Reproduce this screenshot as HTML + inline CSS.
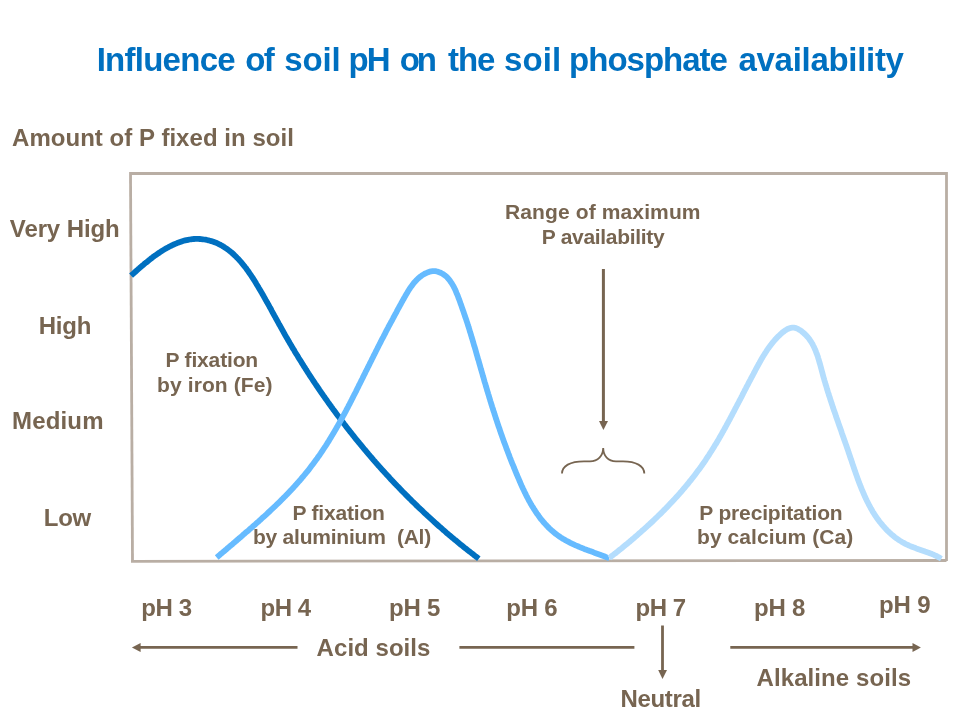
<!DOCTYPE html>
<html><head><meta charset="utf-8"><style>
html,body{margin:0;padding:0;background:#fff;width:960px;height:720px;overflow:hidden}
svg{display:block;will-change:transform}
text{font-family:"Liberation Sans",sans-serif;font-weight:bold;white-space:pre}
</style></head><body>
<svg width="960" height="720" viewBox="0 0 960 720">
<path d="M130.5,173.5 L946.5,173.5" stroke="#B9AEA4" stroke-width="2.8" fill="none"/>
<path d="M946.5,172 L946.5,561" stroke="#B9AEA4" stroke-width="2.8" fill="none"/>
<path d="M130.5,172 L132.5,562" stroke="#B9AEA4" stroke-width="2.8" fill="none"/>
<path d="M131,561.3 L946.5,560.5" stroke="#B9AEA4" stroke-width="2.8" fill="none"/>
<path d="M131.1,275.6 L132.1,274.7 L133.1,273.8 L134.1,272.9 L135.1,272.0 L136.2,271.0 L137.2,270.1 L138.3,269.1 L139.4,268.2 L140.5,267.2 L141.6,266.3 L142.8,265.3 L143.9,264.3 L145.1,263.3 L146.3,262.4 L147.5,261.4 L148.7,260.4 L149.9,259.5 L151.1,258.5 L152.4,257.6 L153.6,256.6 L154.9,255.7 L156.2,254.8 L157.5,253.9 L158.8,253.0 L160.1,252.1 L161.4,251.3 L162.8,250.4 L164.1,249.6 L165.5,248.8 L166.8,248.0 L168.2,247.3 L169.6,246.5 L171.0,245.8 L172.4,245.1 L173.8,244.5 L175.2,243.9 L176.6,243.3 L178.0,242.7 L179.4,242.2 L180.9,241.7 L182.3,241.2 L183.7,240.8 L185.2,240.4 L186.6,240.1 L188.1,239.8 L189.5,239.5 L191.0,239.3 L192.4,239.1 L193.9,239.0 L195.4,238.9 L196.8,238.9 L198.3,238.9 L199.8,239.0 L201.2,239.1 L202.7,239.3 L204.1,239.5 L205.6,239.7 L207.0,240.0 L208.4,240.3 L209.9,240.7 L211.3,241.1 L212.7,241.5 L214.0,242.0 L215.4,242.6 L216.8,243.1 L218.1,243.7 L219.4,244.4 L220.7,245.0 L222.0,245.7 L223.2,246.5 L224.5,247.3 L225.7,248.1 L226.9,248.9 L228.1,249.8 L229.3,250.7 L230.4,251.6 L231.6,252.5 L232.7,253.5 L233.8,254.5 L234.9,255.6 L236.0,256.6 L237.0,257.7 L238.1,258.8 L239.1,259.9 L240.1,261.0 L241.1,262.2 L242.1,263.4 L243.1,264.6 L244.1,265.8 L245.0,267.0 L246.0,268.2 L246.9,269.5 L247.8,270.7 L248.7,272.0 L249.6,273.3 L250.5,274.6 L251.4,275.9 L252.2,277.2 L253.1,278.5 L253.9,279.9 L254.8,281.2 L255.6,282.5 L256.4,283.9 L257.2,285.2 L258.0,286.5 L258.8,287.9 L259.6,289.2 L260.4,290.6 L261.2,291.9 L262.0,293.2 L262.7,294.6 L263.5,295.9 L264.2,297.2 L265.0,298.6 L265.7,299.9 L266.5,301.2 L267.2,302.6 L268.0,303.9 L268.7,305.2 L269.4,306.5 L270.1,307.8 L270.9,309.1 L271.6,310.5 L272.3,311.8 L273.0,313.1 L273.7,314.4 L274.4,315.7 L275.2,317.0 L275.9,318.3 L276.6,319.6 L277.3,320.9 L278.0,322.2 L278.7,323.5 L279.4,324.8 L280.2,326.1 L280.9,327.4 L281.6,328.7 L282.3,330.0 L283.1,331.3 L283.8,332.6 L284.5,333.9 L285.2,335.2 L286.0,336.5 L286.7,337.8 L287.5,339.1 L288.2,340.4 L289.0,341.6 L289.7,342.9 L290.5,344.2 L291.2,345.5 L292.0,346.8 L292.7,348.1 L293.5,349.3 L294.3,350.6 L295.0,351.9 L295.8,353.2 L296.6,354.5 L297.4,355.7 L298.1,357.0 L298.9,358.3 L299.7,359.5 L300.5,360.8 L301.3,362.1 L302.1,363.4 L302.9,364.6 L303.7,365.9 L304.5,367.2 L305.3,368.4 L306.1,369.7 L306.9,370.9 L307.7,372.2 L308.5,373.5 L309.3,374.7 L310.1,376.0 L311.0,377.2 L311.8,378.5 L312.6,379.7 L313.4,381.0 L314.3,382.2 L315.1,383.5 L315.9,384.7 L316.8,386.0 L317.6,387.2 L318.5,388.5 L319.3,389.7 L320.2,390.9 L321.0,392.2 L321.9,393.4 L322.7,394.6 L323.6,395.9 L324.5,397.1 L325.3,398.3 L326.2,399.6 L327.1,400.8 L327.9,402.0 L328.8,403.3 L329.7,404.5 L330.6,405.7 L331.4,406.9 L332.3,408.1 L333.2,409.4 L334.1,410.6 L335.0,411.8 L335.9,413.0 L336.8,414.2 L337.7,415.4 L338.6,416.6 L339.5,417.8 L340.4,419.0 L341.3,420.2 L342.2,421.4 L343.1,422.6 L344.0,423.8 L345.0,425.0 L345.9,426.2 L346.8,427.4 L347.7,428.6 L348.7,429.8 L349.6,431.0 L350.5,432.2 L351.5,433.4 L352.4,434.5 L353.3,435.7 L354.3,436.9 L355.2,438.1 L356.2,439.3 L357.1,440.4 L358.1,441.6 L359.0,442.8 L360.0,443.9 L361.0,445.1 L361.9,446.3 L362.9,447.4 L363.8,448.6 L364.8,449.7 L365.8,450.9 L366.8,452.1 L367.7,453.2 L368.7,454.4 L369.7,455.5 L370.7,456.7 L371.7,457.8 L372.6,458.9 L373.6,460.1 L374.6,461.2 L375.6,462.4 L376.6,463.5 L377.6,464.6 L378.6,465.8 L379.6,466.9 L380.6,468.0 L381.6,469.1 L382.6,470.3 L383.7,471.4 L384.7,472.5 L385.7,473.6 L386.7,474.7 L387.7,475.8 L388.8,476.9 L389.8,478.1 L390.8,479.2 L391.8,480.3 L392.9,481.4 L393.9,482.5 L394.9,483.6 L396.0,484.6 L397.0,485.7 L398.1,486.8 L399.1,487.9 L400.2,489.0 L401.2,490.1 L402.3,491.2 L403.3,492.2 L404.4,493.3 L405.4,494.4 L406.5,495.5 L407.6,496.5 L408.6,497.6 L409.7,498.7 L410.8,499.7 L411.8,500.8 L412.9,501.8 L414.0,502.9 L415.1,503.9 L416.1,505.0 L417.2,506.0 L418.3,507.1 L419.4,508.1 L420.5,509.2 L421.6,510.2 L422.7,511.2 L423.8,512.3 L424.9,513.3 L426.0,514.3 L427.1,515.4 L428.2,516.4 L429.3,517.4 L430.4,518.4 L431.5,519.4 L432.6,520.4 L433.7,521.4 L434.8,522.5 L436.0,523.5 L437.1,524.5 L438.2,525.5 L439.3,526.5 L440.5,527.4 L441.6,528.4 L442.7,529.4 L443.9,530.4 L445.0,531.4 L446.1,532.4 L447.3,533.4 L448.4,534.3 L449.5,535.3 L450.7,536.3 L451.8,537.2 L453.0,538.2 L454.1,539.2 L455.3,540.1 L456.5,541.1 L457.6,542.0 L458.8,543.0 L459.9,543.9 L461.1,544.9 L462.3,545.8 L463.4,546.7 L464.6,547.7 L465.8,548.6 L466.9,549.5 L468.1,550.5 L469.3,551.4 L470.5,552.3 L471.7,553.2 L472.8,554.1 L474.0,555.1 L475.2,556.0 L476.4,556.9 L477.6,557.8 L478.8,558.7" stroke="#0070C0" stroke-width="5.8" fill="none" stroke-linejoin="round"/>
<path d="M216.7,557.5 L217.9,556.5 L219.0,555.6 L220.1,554.6 L221.3,553.6 L222.4,552.7 L223.5,551.7 L224.7,550.7 L225.8,549.8 L226.9,548.8 L228.1,547.8 L229.2,546.8 L230.4,545.9 L231.5,544.9 L232.7,543.9 L233.8,542.9 L234.9,542.0 L236.1,541.0 L237.2,540.0 L238.4,539.0 L239.5,538.0 L240.7,537.1 L241.8,536.1 L242.9,535.1 L244.1,534.1 L245.2,533.1 L246.4,532.1 L247.5,531.2 L248.7,530.2 L249.8,529.2 L250.9,528.2 L252.1,527.2 L253.2,526.2 L254.3,525.2 L255.5,524.2 L256.6,523.2 L257.7,522.2 L258.9,521.2 L260.0,520.2 L261.1,519.1 L262.2,518.1 L263.4,517.1 L264.5,516.1 L265.6,515.1 L266.7,514.1 L267.8,513.0 L268.9,512.0 L270.0,511.0 L271.1,509.9 L272.2,508.9 L273.3,507.9 L274.4,506.8 L275.5,505.8 L276.6,504.7 L277.7,503.7 L278.8,502.6 L279.9,501.6 L280.9,500.5 L282.0,499.4 L283.1,498.4 L284.1,497.3 L285.2,496.2 L286.2,495.1 L287.3,494.1 L288.3,493.0 L289.4,491.9 L290.4,490.8 L291.4,489.7 L292.5,488.6 L293.5,487.5 L294.5,486.4 L295.5,485.3 L296.5,484.1 L297.5,483.0 L298.5,481.9 L299.5,480.8 L300.5,479.6 L301.5,478.5 L302.4,477.3 L303.4,476.2 L304.4,475.0 L305.3,473.9 L306.3,472.7 L307.2,471.6 L308.2,470.4 L309.1,469.2 L310.0,468.0 L310.9,466.8 L311.8,465.6 L312.7,464.4 L313.6,463.2 L314.5,462.0 L315.4,460.8 L316.3,459.6 L317.2,458.4 L318.0,457.2 L318.9,455.9 L319.8,454.7 L320.6,453.5 L321.4,452.2 L322.3,451.0 L323.1,449.7 L323.9,448.5 L324.8,447.2 L325.6,446.0 L326.4,444.7 L327.2,443.4 L328.0,442.2 L328.8,440.9 L329.6,439.6 L330.4,438.3 L331.2,437.0 L331.9,435.7 L332.7,434.4 L333.5,433.2 L334.2,431.9 L335.0,430.6 L335.8,429.3 L336.5,427.9 L337.3,426.6 L338.0,425.3 L338.8,424.0 L339.5,422.7 L340.2,421.4 L341.0,420.1 L341.7,418.7 L342.4,417.4 L343.1,416.1 L343.9,414.8 L344.6,413.4 L345.3,412.1 L346.0,410.8 L346.7,409.4 L347.4,408.1 L348.1,406.8 L348.8,405.4 L349.5,404.1 L350.2,402.7 L350.9,401.4 L351.6,400.0 L352.3,398.7 L352.9,397.4 L353.6,396.0 L354.3,394.7 L355.0,393.3 L355.7,392.0 L356.4,390.6 L357.0,389.3 L357.7,387.9 L358.4,386.6 L359.0,385.2 L359.7,383.9 L360.4,382.5 L361.1,381.2 L361.7,379.8 L362.4,378.5 L363.1,377.1 L363.7,375.8 L364.4,374.4 L365.1,373.1 L365.7,371.7 L366.4,370.4 L367.1,369.0 L367.7,367.7 L368.4,366.4 L369.1,365.0 L369.7,363.7 L370.4,362.3 L371.1,361.0 L371.7,359.7 L372.4,358.3 L373.1,357.0 L373.7,355.6 L374.4,354.3 L375.1,353.0 L375.7,351.7 L376.4,350.3 L377.1,349.0 L377.8,347.7 L378.4,346.3 L379.1,345.0 L379.8,343.7 L380.5,342.4 L381.1,341.0 L381.8,339.7 L382.5,338.4 L383.2,337.1 L383.9,335.7 L384.6,334.4 L385.3,333.1 L385.9,331.8 L386.6,330.4 L387.3,329.1 L388.0,327.8 L388.7,326.4 L389.4,325.1 L390.1,323.8 L390.8,322.5 L391.6,321.1 L392.3,319.8 L393.0,318.5 L393.7,317.1 L394.4,315.8 L395.1,314.5 L395.9,313.1 L396.6,311.8 L397.3,310.4 L398.0,309.1 L398.8,307.8 L399.5,306.4 L400.2,305.1 L401.0,303.7 L401.7,302.4 L402.5,301.0 L403.2,299.7 L404.0,298.3 L404.8,296.9 L405.5,295.6 L406.3,294.2 L407.1,292.9 L407.9,291.6 L408.7,290.3 L409.5,289.0 L410.4,287.7 L411.3,286.4 L412.2,285.2 L413.1,284.0 L414.0,282.8 L415.0,281.7 L416.0,280.6 L417.1,279.5 L418.1,278.5 L419.3,277.5 L420.4,276.6 L421.6,275.7 L422.8,274.9 L424.1,274.1 L425.4,273.4 L426.8,272.8 L428.2,272.2 L429.6,271.7 L431.1,271.4 L432.6,271.2 L434.0,271.1 L435.5,271.2 L437.0,271.5 L438.4,271.9 L439.8,272.4 L441.1,273.0 L442.4,273.7 L443.6,274.5 L444.8,275.3 L445.9,276.2 L447.0,277.2 L448.0,278.3 L448.9,279.4 L449.9,280.6 L450.7,281.8 L451.6,283.1 L452.4,284.4 L453.2,285.7 L453.9,287.1 L454.6,288.5 L455.3,289.9 L455.9,291.4 L456.5,292.9 L457.2,294.4 L457.8,295.9 L458.3,297.4 L458.9,298.9 L459.5,300.4 L460.0,301.9 L460.5,303.3 L461.1,304.8 L461.6,306.3 L462.1,307.8 L462.6,309.2 L463.1,310.7 L463.6,312.1 L464.1,313.6 L464.6,315.0 L465.1,316.5 L465.6,317.9 L466.1,319.3 L466.5,320.7 L467.0,322.2 L467.5,323.6 L467.9,325.0 L468.4,326.4 L468.8,327.8 L469.3,329.2 L469.7,330.7 L470.1,332.1 L470.6,333.5 L471.0,334.9 L471.4,336.3 L471.8,337.7 L472.3,339.1 L472.7,340.5 L473.1,341.9 L473.5,343.3 L473.9,344.7 L474.3,346.1 L474.8,347.5 L475.2,348.9 L475.6,350.3 L476.0,351.8 L476.4,353.2 L476.8,354.6 L477.2,356.0 L477.6,357.4 L478.0,358.9 L478.5,360.3 L478.9,361.7 L479.3,363.2 L479.7,364.6 L480.1,366.1 L480.5,367.5 L480.9,369.0 L481.4,370.4 L481.8,371.9 L482.2,373.3 L482.6,374.8 L483.0,376.3 L483.5,377.7 L483.9,379.2 L484.3,380.7 L484.7,382.1 L485.2,383.6 L485.6,385.1 L486.0,386.5 L486.5,388.0 L486.9,389.4 L487.3,390.9 L487.8,392.4 L488.2,393.8 L488.7,395.3 L489.1,396.8 L489.5,398.2 L490.0,399.7 L490.4,401.1 L490.9,402.6 L491.3,404.0 L491.8,405.5 L492.2,406.9 L492.7,408.3 L493.1,409.8 L493.6,411.2 L494.1,412.6 L494.5,414.1 L495.0,415.5 L495.5,416.9 L495.9,418.4 L496.4,419.8 L496.9,421.2 L497.3,422.6 L497.8,424.0 L498.3,425.5 L498.8,426.9 L499.3,428.3 L499.8,429.7 L500.2,431.1 L500.7,432.5 L501.2,433.9 L501.7,435.3 L502.2,436.7 L502.7,438.2 L503.2,439.6 L503.7,441.0 L504.2,442.4 L504.8,443.8 L505.3,445.2 L505.8,446.6 L506.3,448.0 L506.8,449.4 L507.4,450.8 L507.9,452.2 L508.4,453.6 L509.0,455.0 L509.5,456.4 L510.0,457.8 L510.6,459.2 L511.1,460.6 L511.7,462.0 L512.2,463.4 L512.8,464.7 L513.4,466.1 L513.9,467.5 L514.5,468.9 L515.1,470.3 L515.6,471.7 L516.2,473.1 L516.8,474.5 L517.4,475.9 L518.0,477.3 L518.6,478.7 L519.2,480.1 L519.8,481.5 L520.4,482.9 L521.0,484.3 L521.6,485.7 L522.3,487.1 L522.9,488.5 L523.6,489.8 L524.2,491.2 L524.9,492.6 L525.5,493.9 L526.2,495.3 L526.9,496.6 L527.6,498.0 L528.3,499.3 L529.0,500.7 L529.8,502.0 L530.5,503.3 L531.2,504.6 L532.0,505.9 L532.8,507.2 L533.6,508.4 L534.4,509.7 L535.2,510.9 L536.0,512.2 L536.8,513.4 L537.7,514.6 L538.6,515.8 L539.4,517.0 L540.3,518.2 L541.2,519.4 L542.2,520.5 L543.1,521.6 L544.1,522.8 L545.1,523.9 L546.0,524.9 L547.1,526.0 L548.1,527.1 L549.1,528.1 L550.2,529.1 L551.3,530.1 L552.4,531.1 L553.5,532.0 L554.7,533.0 L555.8,533.9 L557.0,534.8 L558.2,535.7 L559.4,536.5 L560.7,537.4 L562.0,538.2 L563.2,539.0 L564.6,539.7 L565.9,540.5 L567.2,541.2 L568.6,541.9 L569.9,542.6 L571.3,543.3 L572.7,544.0 L574.1,544.6 L575.6,545.3 L577.0,545.9 L578.4,546.5 L579.8,547.1 L581.3,547.7 L582.7,548.3 L584.2,548.9 L585.6,549.4 L587.1,550.0 L588.5,550.5 L590.0,551.1 L591.4,551.6 L592.9,552.1 L594.3,552.7 L595.7,553.2 L597.1,553.7 L598.6,554.2 L600.0,554.7 L601.3,555.3 L602.7,555.8 L604.1,556.3 L605.4,556.8 L606.8,557.4 L608.1,557.9 L609.4,558.4" stroke="#66BBFF" stroke-width="5.8" fill="none" stroke-linejoin="round"/>
<path d="M609.3,558.0 L610.5,557.1 L611.7,556.1 L612.8,555.2 L614.0,554.3 L615.2,553.4 L616.4,552.4 L617.6,551.5 L618.8,550.5 L619.9,549.6 L621.1,548.7 L622.3,547.7 L623.4,546.8 L624.6,545.8 L625.8,544.8 L626.9,543.9 L628.1,542.9 L629.3,542.0 L630.4,541.0 L631.6,540.0 L632.7,539.0 L633.9,538.1 L635.0,537.1 L636.2,536.1 L637.3,535.1 L638.4,534.1 L639.6,533.1 L640.7,532.1 L641.8,531.1 L643.0,530.1 L644.1,529.1 L645.2,528.1 L646.3,527.1 L647.4,526.1 L648.6,525.1 L649.7,524.0 L650.8,523.0 L651.9,522.0 L653.0,521.0 L654.1,519.9 L655.2,518.9 L656.2,517.8 L657.3,516.8 L658.4,515.7 L659.5,514.7 L660.6,513.6 L661.6,512.6 L662.7,511.5 L663.8,510.4 L664.8,509.4 L665.9,508.3 L666.9,507.2 L668.0,506.1 L669.0,505.0 L670.0,503.9 L671.1,502.8 L672.1,501.7 L673.1,500.6 L674.2,499.5 L675.2,498.4 L676.2,497.3 L677.2,496.2 L678.2,495.1 L679.2,494.0 L680.2,492.8 L681.2,491.7 L682.2,490.6 L683.1,489.4 L684.1,488.3 L685.1,487.1 L686.0,486.0 L687.0,484.8 L688.0,483.7 L688.9,482.5 L689.8,481.3 L690.8,480.2 L691.7,479.0 L692.6,477.8 L693.6,476.6 L694.5,475.4 L695.4,474.2 L696.3,473.0 L697.2,471.8 L698.1,470.6 L699.0,469.4 L699.9,468.2 L700.8,467.0 L701.6,465.8 L702.5,464.5 L703.4,463.3 L704.2,462.1 L705.1,460.8 L705.9,459.6 L706.7,458.3 L707.6,457.1 L708.4,455.8 L709.2,454.6 L710.0,453.3 L710.8,452.0 L711.6,450.8 L712.4,449.5 L713.2,448.2 L714.0,446.9 L714.8,445.6 L715.6,444.3 L716.4,443.1 L717.1,441.8 L717.9,440.5 L718.7,439.2 L719.4,437.9 L720.2,436.6 L720.9,435.2 L721.7,433.9 L722.4,432.6 L723.2,431.3 L723.9,430.0 L724.6,428.7 L725.4,427.3 L726.1,426.0 L726.8,424.7 L727.5,423.4 L728.3,422.0 L729.0,420.7 L729.7,419.4 L730.4,418.0 L731.1,416.7 L731.8,415.4 L732.5,414.0 L733.2,412.7 L733.9,411.4 L734.6,410.0 L735.3,408.7 L736.0,407.3 L736.7,406.0 L737.4,404.7 L738.1,403.3 L738.8,402.0 L739.5,400.6 L740.2,399.3 L740.9,398.0 L741.6,396.6 L742.3,395.3 L743.0,393.9 L743.6,392.6 L744.3,391.3 L745.0,389.9 L745.7,388.6 L746.4,387.2 L747.1,385.9 L747.8,384.6 L748.5,383.2 L749.2,381.9 L749.9,380.6 L750.6,379.3 L751.3,377.9 L752.0,376.6 L752.7,375.3 L753.4,374.0 L754.1,372.6 L754.8,371.3 L755.5,370.0 L756.2,368.7 L756.9,367.4 L757.6,366.1 L758.3,364.8 L759.1,363.5 L759.8,362.2 L760.5,360.9 L761.2,359.6 L762.0,358.3 L762.7,357.0 L763.5,355.7 L764.3,354.5 L765.1,353.2 L765.9,352.0 L766.7,350.7 L767.5,349.5 L768.4,348.2 L769.3,347.0 L770.1,345.8 L771.1,344.6 L772.0,343.4 L773.0,342.2 L774.0,341.0 L775.0,339.8 L776.0,338.7 L777.1,337.5 L778.2,336.4 L779.4,335.3 L780.6,334.2 L781.8,333.1 L783.0,332.1 L784.3,331.1 L785.6,330.2 L786.9,329.4 L788.3,328.7 L789.6,328.2 L791.0,327.8 L792.4,327.6 L793.8,327.7 L795.1,327.9 L796.5,328.3 L797.9,328.9 L799.2,329.7 L800.6,330.5 L801.8,331.4 L803.0,332.4 L804.2,333.5 L805.3,334.5 L806.4,335.6 L807.4,336.8 L808.4,337.9 L809.3,339.1 L810.1,340.3 L811.0,341.6 L811.7,342.8 L812.5,344.1 L813.2,345.5 L813.9,346.8 L814.5,348.2 L815.1,349.5 L815.7,350.9 L816.2,352.3 L816.8,353.8 L817.3,355.2 L817.8,356.6 L818.2,358.1 L818.7,359.6 L819.1,361.0 L819.5,362.5 L820.0,364.0 L820.4,365.5 L820.8,367.0 L821.2,368.5 L821.6,370.0 L822.0,371.5 L822.4,372.9 L822.8,374.4 L823.2,375.9 L823.6,377.4 L824.0,378.8 L824.4,380.3 L824.9,381.8 L825.3,383.2 L825.7,384.7 L826.2,386.1 L826.6,387.6 L827.0,389.0 L827.5,390.5 L827.9,391.9 L828.4,393.3 L828.8,394.8 L829.3,396.2 L829.8,397.6 L830.2,399.1 L830.7,400.5 L831.2,401.9 L831.6,403.3 L832.1,404.7 L832.6,406.2 L833.0,407.6 L833.5,409.0 L834.0,410.4 L834.5,411.8 L835.0,413.2 L835.5,414.6 L835.9,416.0 L836.4,417.4 L836.9,418.8 L837.4,420.2 L837.9,421.6 L838.4,423.1 L838.9,424.5 L839.4,425.9 L839.9,427.3 L840.4,428.7 L840.9,430.1 L841.4,431.5 L841.8,432.9 L842.3,434.3 L842.8,435.7 L843.3,437.1 L843.8,438.5 L844.3,439.9 L844.8,441.3 L845.3,442.7 L845.8,444.2 L846.3,445.6 L846.8,447.0 L847.3,448.4 L847.8,449.8 L848.3,451.3 L848.7,452.7 L849.2,454.1 L849.7,455.5 L850.2,457.0 L850.7,458.4 L851.2,459.8 L851.7,461.3 L852.1,462.7 L852.6,464.2 L853.1,465.6 L853.6,467.0 L854.1,468.5 L854.6,469.9 L855.1,471.3 L855.6,472.8 L856.1,474.2 L856.6,475.7 L857.1,477.1 L857.6,478.5 L858.1,479.9 L858.7,481.4 L859.2,482.8 L859.7,484.2 L860.3,485.6 L860.9,487.0 L861.4,488.4 L862.0,489.8 L862.6,491.2 L863.2,492.6 L863.8,494.0 L864.4,495.4 L865.0,496.8 L865.6,498.1 L866.3,499.5 L866.9,500.8 L867.6,502.2 L868.3,503.5 L869.0,504.9 L869.7,506.2 L870.4,507.5 L871.1,508.8 L871.9,510.1 L872.6,511.4 L873.4,512.7 L874.2,513.9 L875.0,515.2 L875.9,516.4 L876.7,517.7 L877.6,518.9 L878.4,520.1 L879.3,521.3 L880.3,522.5 L881.2,523.6 L882.1,524.8 L883.1,525.9 L884.1,527.0 L885.1,528.1 L886.1,529.2 L887.1,530.3 L888.2,531.3 L889.3,532.4 L890.4,533.4 L891.5,534.4 L892.6,535.3 L893.8,536.3 L894.9,537.2 L896.1,538.1 L897.3,538.9 L898.6,539.8 L899.8,540.6 L901.1,541.4 L902.4,542.2 L903.7,542.9 L905.0,543.6 L906.4,544.3 L907.7,544.9 L909.1,545.6 L910.5,546.2 L911.9,546.7 L913.4,547.3 L914.8,547.8 L916.3,548.4 L917.7,548.9 L919.2,549.4 L920.6,549.9 L922.1,550.4 L923.5,550.9 L925.0,551.5 L926.4,552.0 L927.9,552.5 L929.3,553.0 L930.7,553.6 L932.1,554.1 L933.5,554.7 L934.9,555.3 L936.2,555.9 L937.5,556.6 L938.9,557.3 L940.1,558.0 L941.4,558.7" stroke="#B4DDFD" stroke-width="5.8" fill="none" stroke-linejoin="round"/>
<path d="M603.4,269 L603.4,422" stroke="#776551" stroke-width="3" fill="none"/>
<path d="M599,421 L608,421 L603.4,430 Z" fill="#776551"/>
<path d="M562,473.6 C562,466 570,461.3 584,461.3 L590,461.3 C598,461.3 603,456 603.2,448 C603.4,456 608,461.3 616,461.3 L623,461.3 C636,461.3 644.3,466 644.3,473.6" stroke="#776551" stroke-width="1.8" fill="none"/>
<path d="M140,647.4 L297.5,647.4" stroke="#776551" stroke-width="2.8" fill="none"/>
<path d="M131.9,647.4 L140.6,643.1 L140.6,651.9 Z" fill="#776551"/>
<path d="M459.4,647.4 L634.4,647.4" stroke="#776551" stroke-width="2.8" fill="none"/>
<path d="M730.3,647.4 L913,647.4" stroke="#776551" stroke-width="2.8" fill="none"/>
<path d="M920.9,647.4 L912.5,643.1 L912.5,651.9 Z" fill="#776551"/>
<path d="M662.5,625.5 L662.5,671" stroke="#776551" stroke-width="2.8" fill="none"/>
<path d="M658.2,670.1 L667,670.1 L662.5,679.1 Z" fill="#776551"/>
<text id="t1" x="96.65" y="70.7" font-size="33" fill="#0070C0" textLength="138.96" lengthAdjust="spacing">Influence</text>
<text id="t2" x="245.35" y="70.7" font-size="33" fill="#0070C0" textLength="29.46" lengthAdjust="spacing">of</text>
<text id="t3" x="284.30" y="70.7" font-size="33" fill="#0070C0" textLength="56.46" lengthAdjust="spacing">soil</text>
<text id="t4" x="348.60" y="70.7" font-size="33" fill="#0070C0" textLength="41.90" lengthAdjust="spacing">pH</text>
<text id="t5" x="399.70" y="70.7" font-size="33" fill="#0070C0" textLength="37.33" lengthAdjust="spacing">on</text>
<text id="t6" x="448.10" y="70.7" font-size="33" fill="#0070C0" textLength="47.20" lengthAdjust="spacing">the</text>
<text id="t7" x="504.00" y="70.7" font-size="33" fill="#0070C0" textLength="57.06" lengthAdjust="spacing">soil</text>
<text id="t8" x="569.10" y="70.7" font-size="33" fill="#0070C0" textLength="158.74" lengthAdjust="spacing">phosphate</text>
<text id="t9" x="738.50" y="70.7" font-size="33" fill="#0070C0" textLength="165.47" lengthAdjust="spacing">availability</text>
<text id="amount" x="12.00" y="145.8" font-size="24" fill="#776551" textLength="281.91" lengthAdjust="spacing">Amount of P fixed in soil</text>
<text id="vh" x="9.80" y="236.7" font-size="24" fill="#776551" textLength="109.92" lengthAdjust="spacing">Very High</text>
<text id="high" x="38.80" y="333.8" font-size="24" fill="#776551" textLength="52.53" lengthAdjust="spacing">High</text>
<text id="medium" x="12.00" y="428.8" font-size="24" fill="#776551" textLength="91.47" lengthAdjust="spacing">Medium</text>
<text id="low" x="43.80" y="525.8" font-size="24" fill="#776551" textLength="47.40" lengthAdjust="spacing">Low</text>
<text id="fe1" x="165.40" y="366.9" font-size="21" fill="#776551" textLength="92.74" lengthAdjust="spacing">P fixation</text>
<text id="fe2" x="157.10" y="391.7" font-size="21" fill="#776551" textLength="115.34" lengthAdjust="spacing">by iron (Fe)</text>
<text id="r1" x="505.00" y="218.8" font-size="21" fill="#776551" textLength="195.52" lengthAdjust="spacing">Range of maximum</text>
<text id="r2" x="541.80" y="243.8" font-size="21" fill="#776551" textLength="122.86" lengthAdjust="spacing">P availability</text>
<text id="al1" x="292.40" y="519.7" font-size="21" fill="#776551" textLength="92.54" lengthAdjust="spacing">P fixation</text>
<text id="al2" x="252.90" y="544.1" font-size="21" fill="#776551" textLength="178.32" lengthAdjust="spacing">by aluminium&#160; (Al)</text>
<text id="ca1" x="699.20" y="519.9" font-size="21" fill="#776551" textLength="143.48" lengthAdjust="spacing">P precipitation</text>
<text id="ca2" x="697.00" y="544.1" font-size="21" fill="#776551" textLength="156.32" lengthAdjust="spacing">by calcium (Ca)</text>
<text id="ph3" x="141.20" y="615.9" font-size="24" fill="#776551" textLength="50.82" lengthAdjust="spacing">pH 3</text>
<text id="ph4" x="260.60" y="615.9" font-size="24" fill="#776551" textLength="50.62" lengthAdjust="spacing">pH 4</text>
<text id="ph5" x="389.00" y="615.9" font-size="24" fill="#776551" textLength="51.42" lengthAdjust="spacing">pH 5</text>
<text id="ph6" x="506.20" y="615.9" font-size="24" fill="#776551" textLength="51.42" lengthAdjust="spacing">pH 6</text>
<text id="ph7" x="635.60" y="615.9" font-size="24" fill="#776551" textLength="50.62" lengthAdjust="spacing">pH 7</text>
<text id="ph8" x="754.00" y="615.9" font-size="24" fill="#776551" textLength="51.42" lengthAdjust="spacing">pH 8</text>
<text id="ph9" x="879.00" y="612.9" font-size="24" fill="#776551" textLength="51.62" lengthAdjust="spacing">pH 9</text>
<text id="acid" x="316.60" y="655.8" font-size="24" fill="#776551" textLength="113.78" lengthAdjust="spacing">Acid soils</text>
<text id="neutral" x="620.40" y="706.8" font-size="24" fill="#776551" textLength="80.89" lengthAdjust="spacing">Neutral</text>
<text id="alk" x="756.60" y="685.7" font-size="24" fill="#776551" textLength="154.41" lengthAdjust="spacing">Alkaline soils</text>
</svg>
</body></html>
